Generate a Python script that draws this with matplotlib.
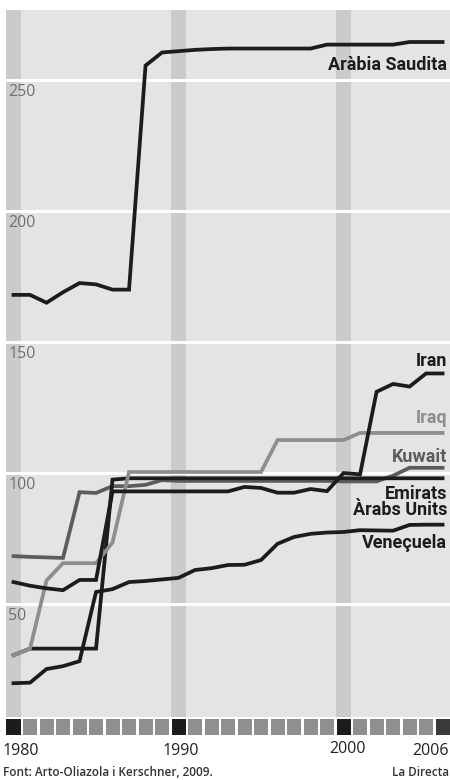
import matplotlib
matplotlib.use('Agg')
import matplotlib.pyplot as plt

# reserves de petroli (milers de milions de barrils)
years = list(range(1980, 2007))
saudi = [168, 168, 165, 169, 172.5, 172, 170, 170, 255.5, 260.5, 261, 261.5, 261.8, 262,
         262, 262, 262, 262, 262, 263.5, 263.5, 263.5, 263.5, 263.5, 264.5, 264.5, 264.5]
iran = [58.4, 57, 56, 55.3, 59.2, 59.2, 93, 93, 93, 93, 93, 93, 93, 93, 94.7, 94.3,
        92.5, 92.5, 93.9, 93.1, 100, 99.5, 131, 134, 133, 138, 138]
iraq = [30.5, 33, 59, 65.6, 65.6, 65.6, 73.5, 100.4, 100.4, 100.4, 100.4, 100.4, 100.4,
        100.4, 100.4, 100.4, 112.6, 112.6, 112.6, 112.6, 112.6, 115.3, 115.3, 115.3,
        115.3, 115.3, 115.3]
kuwait = [68.3, 68, 67.8, 67.6, 92.7, 92.4, 95, 95, 95.5, 97.3, 97, 97, 97, 97, 97, 97,
          97, 97, 97, 97, 96.8, 96.8, 96.8, 99, 102, 102, 102]
uae = [30.5, 33, 33, 33, 33, 33, 97.5] + [98] * 20
venezuela = [19.8, 20, 25.2, 26.3, 28.2, 54.6, 55.7, 58.4, 58.8, 59.4, 60, 63, 63.7,
             64.9, 65, 66.8, 73, 75.6, 76.8, 77.3, 77.5, 78.2, 78.1, 78, 80.2, 80.3, 80.3]

yticks = [50, 100, 150, 200, 250]
decades = [1980, 1990, 2000]
year_labels = ['1980', '1990', '2000', '2006']

BLACK = '#1c1c1c'
series = [
    (kuwait, '#5c5c5c', 'Kuwait', 104.3),
    (uae, BLACK, 'Emirats\nÀrabs Units', 84.0),
    (iraq, '#8e8e8e', 'Iraq', 119.2),
    (iran, BLACK, 'Iran', 140.8),
    (venezuela, BLACK, 'Veneçuela', 71.4),
    (saudi, BLACK, 'Aràbia Saudita', 253.8),
]

plt.rcParams['font.family'] = ['Open Sans', 'DejaVu Sans']

fig = plt.figure(figsize=(4.5, 7.8), dpi=100)
fig.patch.set_facecolor('white')

xmin, xmax = 1979.545, 2006.45
ax = fig.add_axes([6 / 450, 1 - 717 / 780, 444 / 450, (717 - 9.5) / 780])
ax.set_facecolor('#e4e4e4')
ax.set_xlim(xmin, xmax)
ax.set_ylim(6.9, 276.9)
for s in ax.spines.values():
    s.set_visible(False)
ax.set_xticks([])
ax.set_yticks([])

for d in decades:
    ax.axvspan(d - 0.45, d + 0.45, color='#cbcbcb', lw=0, zorder=0)
for t in yticks:
    ax.axhline(t, color='white', lw=2.2, zorder=1)
    ax.annotate(str(t), xy=(0, t), xycoords=('axes fraction', 'data'),
                xytext=(1.5, -3), textcoords='offset points', va='top', ha='left',
                fontsize=11.5, color='#707070')

for vals, col, name, ylab in series:
    ax.plot(years, vals, color=col, lw=2.7, solid_joinstyle='miter', zorder=3)
    ax.text(2006.27, ylab, name, ha='right', va='baseline', fontsize=13,
            fontweight='bold', color=col, family=['Roboto', 'DejaVu Sans'],
            linespacing=0.88, zorder=4)

# fila de quadrets dels anys
axs = fig.add_axes([6 / 450, 1 - 735 / 780, 444 / 450, 16 / 780])
axs.set_xlim(xmin, xmax)
axs.set_ylim(0, 1)
axs.axis('off')
for y in years:
    if y in decades:
        c = BLACK
    elif y == years[-1]:
        c = '#3a3a3a'
    else:
        c = '#8f8f8f'
    axs.bar(y, 1, width=0.85, bottom=0, color=c, lw=0)

fig.text(3 / 450, 1 - 751 / 780, year_labels[0], ha='left', va='center', fontsize=11.5, color='#222222')
fig.text(181 / 450, 1 - 751 / 780, year_labels[1], ha='center', va='center', fontsize=11.5, color='#222222')
fig.text(347 / 450, 1 - 749 / 780, year_labels[2], ha='center', va='center', fontsize=11.5, color='#222222')
fig.text(449 / 450, 1 - 751 / 780, year_labels[3], ha='right', va='center', fontsize=11.5, color='#222222')

fig.text(3 / 450, 1 - 773 / 780, 'Font: Arto-Oliazola i Kerschner, 2009.', ha='left', va='center',
         fontsize=8.5, fontweight='semibold', color='#333333')
fig.text(449 / 450, 1 - 773 / 780, 'La Directa', ha='right', va='center',
         fontsize=8.5, fontweight='semibold', color='#333333')

fig.savefig('out.png', dpi=100)
